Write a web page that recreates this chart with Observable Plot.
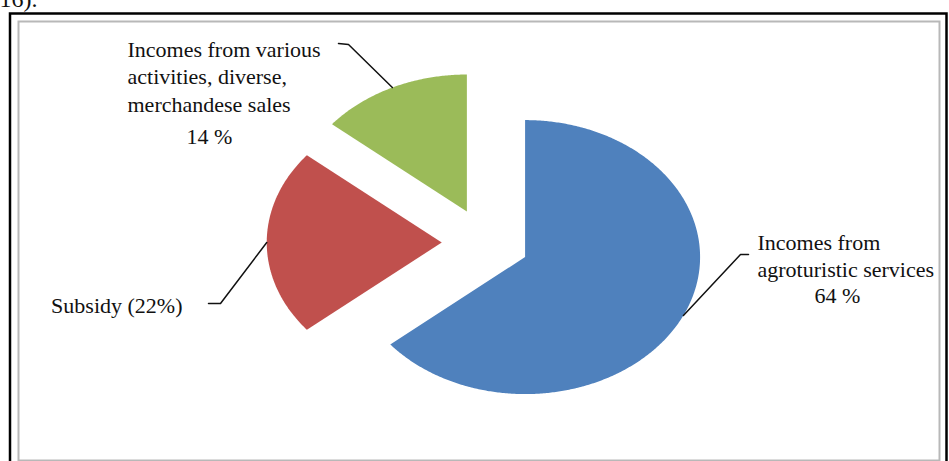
<!DOCTYPE html>
<html><head><meta charset="utf-8">
<script src="https://cdn.jsdelivr.net/npm/d3@7"></script>
<script src="https://cdn.jsdelivr.net/npm/@observablehq/plot@0.6"></script>
<style>body{margin:0;background:#fff;overflow:hidden}</style>
</head><body><div id="chart"></div>
<script>
// ---- data ----
const categories = [
  "Incomes from agroturistic services",
  "Subsidy",
  "Incomes from various activities, diverse, merchandese sales"
];
const shares = [64, 22, 14];
const sliceLabels = [
  "Incomes from\nagroturistic services",
  "Subsidy (22%)",
  "Incomes from various\nactivities, diverse,\nmerchandese sales"
];
const percentLabels = ["64 %", "", "14 %"];
const colors = ["#4F81BD", "#C0504D", "#9BBB59"];

// ---- layout (pixels) ----
const W = 949, H = 461, CX = 485, CY = 242, RX = 175, RY = 137, EXPLODE = 0.25;
const toU = px => (px - CX) / RX;
const toV = py => (CY - py) / RY;
const leaderLayout = [
  {elbow: [740, 254], end: [748, 254]},
  {elbow: [220, 303], end: [208, 303]},
  {elbow: [348, 44], end: [338, 43]}
];
const labelLayout = [
  {x: 757, y: 229.5, anchor: "start"},
  {x: 182, y: 292.5, anchor: "end"},
  {x: 127, y: 36.5, anchor: "start"}
];
const percentLayout = [
  {x: 837, y: 286.5},
  null,
  {x: 209, y: 127.5}
];

// ---- geometry from data ----
const total = d3.sum(shares);
let acc = 0;
const slices = categories.map((c, i) => {
  const a0 = acc / total * 2 * Math.PI;
  acc += shares[i];
  const a1 = acc / total * 2 * Math.PI;
  const mid = (a0 + a1) / 2;
  return {category: c, i, a0, a1, mid, ox: EXPLODE * Math.sin(mid), oy: EXPLODE * Math.cos(mid)};
});
const pts = [];
for (const s of slices) {
  pts.push({category: s.category, u: s.ox, v: s.oy});
  const n = Math.max(2, Math.ceil((s.a1 - s.a0) / (Math.PI / 360)));
  for (let k = 0; k <= n; k++) {
    const a = s.a0 + (s.a1 - s.a0) * k / n;
    pts.push({category: s.category, u: s.ox + Math.sin(a), v: s.oy + Math.cos(a)});
  }
  pts.push({category: s.category, u: s.ox, v: s.oy});
}
const leaders = [];
slices.forEach((s, i) => {
  const L = leaderLayout[i];
  leaders.push({category: s.category, u: s.ox + Math.sin(s.mid), v: s.oy + Math.cos(s.mid)});
  leaders.push({category: s.category, u: toU(L.elbow[0]), v: toV(L.elbow[1])});
  leaders.push({category: s.category, u: toU(L.end[0]), v: toV(L.end[1])});
});
const labels = slices.map((s, i) => ({text: sliceLabels[i], u: toU(labelLayout[i].x), v: toV(labelLayout[i].y), anchor: labelLayout[i].anchor}));
const pcts = slices.filter((s, i) => percentLabels[i]).map(s => ({text: percentLabels[s.i], u: toU(percentLayout[s.i].x), v: toV(percentLayout[s.i].y)}));

const font = "'Liberation Serif', 'Times New Roman', serif";
const chart = Plot.plot({
  width: W, height: H, margin: 0,
  x: {domain: [toU(0), toU(W)], axis: null},
  y: {domain: [toV(H), toV(0)], axis: null},
  color: {domain: categories, range: colors},
  style: {background: "white", overflow: "hidden"},
  marks: [
    Plot.frame({stroke: "black", strokeWidth: 2.5, insetLeft: 9.5, insetTop: 13, insetRight: 3, insetBottom: -6}),
    Plot.frame({stroke: "#b8b8b8", strokeWidth: 2, insetLeft: 18, insetTop: 21, insetRight: 10, insetBottom: 1}),
    Plot.line(pts, {x: "u", y: "v", z: "category", fill: "category", stroke: null, curve: "linear"}),
    Plot.line(leaders, {x: "u", y: "v", z: "category", stroke: "#111", strokeWidth: 1.5}),
    Plot.text(labels.filter(d => d.anchor === "start"), {x: "u", y: "v", text: "text", textAnchor: "start", lineAnchor: "top", fontSize: 22, lineHeight: 1.25, fontFamily: font, fill: "#111"}),
    Plot.text(labels.filter(d => d.anchor === "end"), {x: "u", y: "v", text: "text", textAnchor: "end", lineAnchor: "top", fontSize: 22, lineHeight: 1.25, fontFamily: font, fill: "#111"}),
    Plot.text(pcts, {x: "u", y: "v", text: "text", textAnchor: "middle", lineAnchor: "top", fontSize: 22, fontFamily: font, fill: "#111"}),
    Plot.text(["16)."], {frameAnchor: "top-left", textAnchor: "start", lineAnchor: "top", dx: -1, dy: -11, fontSize: 24, fontFamily: font, fill: "#111"})
  ]
});
document.getElementById("chart").appendChild(chart);
</script>
</body></html>
